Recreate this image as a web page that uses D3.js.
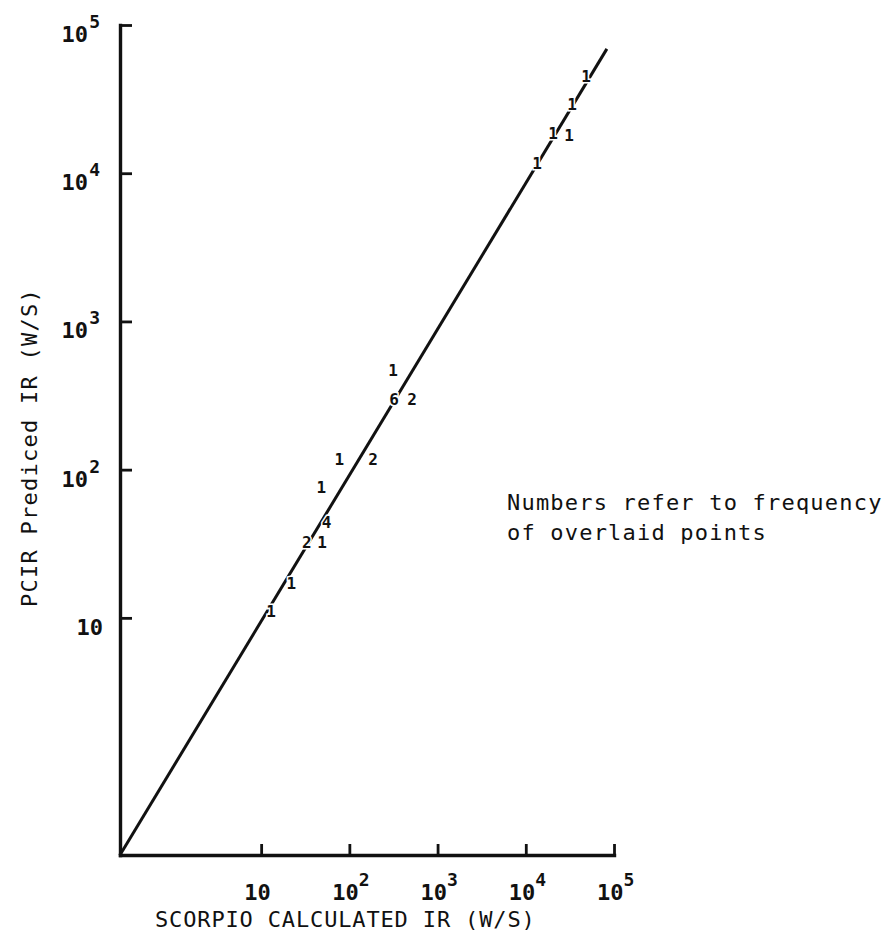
<!DOCTYPE html>
<html>
<head>
<meta charset="utf-8">
<script src="https://cdn.jsdelivr.net/npm/d3@7"></script>
<style>
  body { margin: 0; background: #fff; }
  text { font-family: "DejaVu Sans Mono", monospace; fill: #111; }
</style>
</head>
<body>
<div id="canvas"></div>
<script>
"use strict"
let svgWidth = 896;
let svgHeight = 937;

// tick values (powers of ten) shown on both axes
let tickExps = [1, 2, 3, 4, 5];

// each overlaid point: the printed number is how many points sit there
let pointLabels = ["1", "6", "2", "1", "2", "1", "4", "2", "1", "1", "1", "1", "1", "1", "1", "1"];
let scorpioIR = [313, 321, 514, 77, 186, 48, 55, 33, 49, 22, 13, 13400, 20400, 30900, 33400, 48200];
let pcirIR = [467, 297, 297, 117, 117, 76, 44, 32, 32, 17, 11, 11700, 18600, 18100, 29300, 44600];

// fitted line end points (x, y)
let fitStart = [0.25, 0.25];
let fitEnd = [83000, 69000];

let axisMin = Math.pow(10, -0.6);

let svg = d3.select("#canvas")
    .append("svg")
    .attr("width", svgWidth)
    .attr("height", svgHeight);

let xScale = d3.scaleLog()
    .domain([axisMin, 1e5])
    .range([120, 614]);

let yScale = d3.scaleLog()
    .domain([axisMin, 1e5])
    .range([855, 25]);

let tickValues = tickExps.map(function(e) { return Math.pow(10, e); });

// x axis, ticks point up
svg.append("g")
    .attr("transform", "translate(0," + 855 + ")")
    .call(d3.axisBottom(xScale)
        .tickValues(tickValues)
        .tickSizeInner(-11)
        .tickSizeOuter(0)
        .tickFormat(function() { return ""; }));

// y axis, ticks point right
svg.append("g")
    .attr("transform", "translate(" + 120 + ",0)")
    .call(d3.axisLeft(yScale)
        .tickValues(tickValues)
        .tickSizeInner(-12)
        .tickSizeOuter(0)
        .tickFormat(function() { return ""; }));

svg.selectAll(".domain")
    .attr("stroke", "#111")
    .attr("stroke-width", 3.4)
    .attr("stroke-linecap", "square");
svg.selectAll(".tick line")
    .attr("stroke", "#111")
    .attr("stroke-width", 2.8);

// x tick labels
for (let i = 0; i < tickExps.length; i++) {
    let e = tickExps[i];
    let t = svg.append("text")
        .attr("x", xScale(tickValues[i]) - 17)
        .attr("y", 900)
        .attr("font-size", 22)
        .attr("font-weight", "bold")
        .attr("text-anchor", "start")
        .text("10");
    if (e > 1) {
        t.append("tspan")
            .attr("dy", -14)
            .attr("font-size", 18)
            .text(e);
    }
}

// y tick labels
for (let i = 0; i < tickExps.length; i++) {
    let e = tickExps[i];
    let y = yScale(tickValues[i]) + 17;
    if (e > 1) {
        svg.append("text")
            .attr("x", 100)
            .attr("y", y - 14)
            .attr("font-size", 18)
            .attr("font-weight", "bold")
            .attr("text-anchor", "end")
            .text(e);
        svg.append("text")
            .attr("x", 88)
            .attr("y", y)
            .attr("font-size", 22)
            .attr("font-weight", "bold")
            .attr("text-anchor", "end")
            .text("10");
    } else {
        svg.append("text")
            .attr("x", 103)
            .attr("y", y)
            .attr("font-size", 22)
            .attr("font-weight", "bold")
            .attr("text-anchor", "end")
            .text("10");
    }
}

// fitted line
svg.append("line")
    .attr("x1", xScale(fitStart[0]))
    .attr("y1", yScale(fitStart[1]))
    .attr("x2", xScale(fitEnd[0]))
    .attr("y2", yScale(fitEnd[1]))
    .attr("stroke", "#111")
    .attr("stroke-width", 3);

// frequency numbers
svg.selectAll(".pt")
    .data(pointLabels)
    .join("text")
    .attr("class", "pt")
    .attr("x", function(d, i) { return xScale(scorpioIR[i]); })
    .attr("y", function(d, i) { return yScale(pcirIR[i]); })
    .attr("text-anchor", "middle")
    .attr("dominant-baseline", "central")
    .attr("font-size", 16)
    .attr("font-weight", "bold")
    .attr("stroke", "#fff")
    .attr("stroke-width", 3)
    .attr("paint-order", "stroke")
    .text(function(d) { return d; });

// axis titles
svg.append("text")
    .attr("x", 155)
    .attr("y", 927)
    .attr("font-size", 22)
    .attr("letter-spacing", 0.85)
    .attr("text-anchor", "start")
    .text("SCORPIO CALCULATED IR (W/S)");

svg.append("text")
    .attr("transform", "translate(37," + 607 + ") rotate(-90)")
    .attr("font-size", 22)
    .attr("letter-spacing", 1.25)
    .attr("text-anchor", "start")
    .text("PCIR Prediced IR (W/S)");

// note
let noteLines = ["Numbers refer to frequency", "of overlaid points"];
for (let i = 0; i < noteLines.length; i++) {
    svg.append("text")
        .attr("x", 507)
        .attr("y", 510 + i * 30)
        .attr("font-size", 22)
        .attr("letter-spacing", 1.2)
        .attr("text-anchor", "start")
        .text(noteLines[i]);
}
</script>
</body>
</html>
